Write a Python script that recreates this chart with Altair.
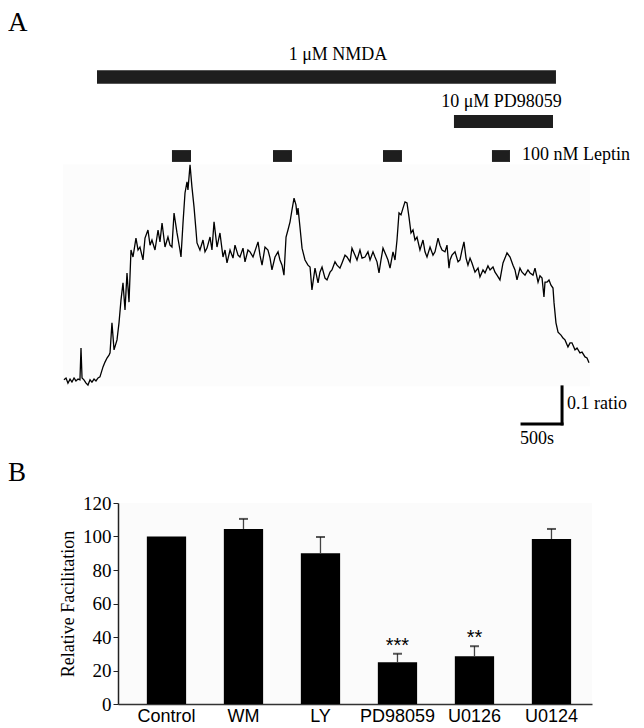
import altair as alt
import pandas as pd

# ---------------- Panel A: calcium-ratio trace (time in s, ratio) ----------------
trace_t = [12, 38, 62, 88, 112, 138, 162, 188, 212, 225, 238, 262, 288, 312, 338, 362, 388, 412, 438, 462,
           500, 525, 550, 575, 588, 612, 638, 675, 700, 725, 750, 775, 800, 825, 850, 875, 912, 938, 962, 1000,
           1025, 1062, 1088, 1112, 1150, 1188, 1212, 1238, 1275, 1312, 1338, 1362, 1388, 1425, 1462, 1475, 1500,
           1525, 1550, 1562, 1588, 1612, 1638, 1662, 1675, 1712, 1750, 1775, 1800, 1838, 1862, 1888, 1925, 1962,
           2000, 2025, 2050, 2088, 2125, 2150, 2188, 2212, 2250, 2275, 2312, 2338, 2375, 2412, 2438, 2462, 2488,
           2525, 2562, 2588, 2612, 2650, 2688, 2712, 2738, 2762, 2788, 2812, 2838, 2862, 2888, 2912, 2925, 2938,
           2962, 2988, 3025, 3062, 3088, 3112, 3150, 3188, 3212, 3238, 3275, 3300, 3338, 3362, 3400, 3425, 3462,
           3488, 3525, 3550, 3588, 3612, 3650, 3675, 3712, 3738, 3775, 3812, 3838, 3875, 3900, 3925, 3950, 3975,
           4000, 4038, 4062, 4088, 4125, 4150, 4175, 4200, 4225, 4250, 4275, 4300, 4325, 4350, 4375, 4400, 4425,
           4462, 4500, 4525, 4550, 4588, 4625, 4650, 4688, 4712, 4738, 4775, 4800, 4825, 4838, 4862, 4900, 4938,
           4962, 4988, 5012, 5038, 5062, 5088, 5112, 5150, 5188, 5212, 5250, 5275, 5312, 5338, 5375, 5400, 5425,
           5462, 5500, 5525, 5550, 5588, 5625, 5650, 5675, 5712, 5738, 5775, 5812, 5838, 5875, 5900, 5938, 5962,
           5988, 6012, 6025, 6050, 6075, 6100, 6125, 6138, 6162, 6188, 6225, 6250, 6275, 6312, 6338, 6362, 6400,
           6425, 6462, 6488, 6525, 6550, 6575]
trace_r = [0.995, 1.000, 0.986, 0.997, 0.989, 1.000, 0.992, 0.997, 0.995, 1.081, 1.000, 0.995, 0.986, 0.981,
           0.995, 0.989, 0.997, 0.992, 1.000, 1.003, 1.030, 1.043, 1.054, 1.062, 1.068, 1.149, 1.076, 1.103,
           1.149, 1.211, 1.257, 1.184, 1.284, 1.205, 1.346, 1.327, 1.378, 1.346, 1.354, 1.319, 1.378, 1.400,
           1.359, 1.373, 1.346, 1.400, 1.368, 1.419, 1.354, 1.381, 1.359, 1.354, 1.446, 1.392, 1.346, 1.327,
           1.419, 1.500, 1.530, 1.508, 1.576, 1.516, 1.462, 1.400, 1.365, 1.346, 1.373, 1.341, 1.351, 1.381,
           1.346, 1.422, 1.354, 1.392, 1.327, 1.346, 1.311, 1.346, 1.324, 1.359, 1.332, 1.327, 1.351, 1.314,
           1.346, 1.341, 1.327, 1.351, 1.368, 1.332, 1.305, 1.354, 1.346, 1.324, 1.292, 1.327, 1.341, 1.319,
           1.305, 1.278, 1.381, 1.400, 1.422, 1.454, 1.486, 1.468, 1.441, 1.459, 1.408, 1.351, 1.319, 1.305,
           1.300, 1.238, 1.297, 1.257, 1.286, 1.300, 1.270, 1.265, 1.286, 1.292, 1.314, 1.305, 1.297, 1.311,
           1.332, 1.327, 1.314, 1.351, 1.332, 1.319, 1.346, 1.324, 1.327, 1.341, 1.319, 1.341, 1.327, 1.314,
           1.284, 1.319, 1.351, 1.332, 1.319, 1.297, 1.341, 1.319, 1.373, 1.446, 1.441, 1.459, 1.476, 1.473,
           1.435, 1.392, 1.400, 1.373, 1.381, 1.346, 1.373, 1.341, 1.327, 1.354, 1.332, 1.341, 1.378, 1.359,
           1.346, 1.341, 1.359, 1.297, 1.319, 1.332, 1.341, 1.314, 1.319, 1.346, 1.368, 1.324, 1.305, 1.324,
           1.311, 1.286, 1.297, 1.273, 1.292, 1.284, 1.303, 1.292, 1.300, 1.286, 1.278, 1.265, 1.311, 1.324,
           1.338, 1.327, 1.305, 1.292, 1.265, 1.297, 1.286, 1.278, 1.292, 1.284, 1.278, 1.297, 1.259, 1.276,
           1.270, 1.219, 1.259, 1.259, 1.265, 1.251, 1.243, 1.203, 1.149, 1.124, 1.116, 1.108, 1.103, 1.084,
           1.095, 1.095, 1.076, 1.081, 1.068, 1.070, 1.057, 1.054, 1.041]

# drug application bars (time span, vertical band in ratio units)
bar_name = ["NMDA", "PD98059", "Leptin 1", "Leptin 2", "Leptin 3", "Leptin 4"]
bar_t0 = [425, 4887, 1362, 2625, 4000, 5362]
bar_t1 = [6162, 6125, 1600, 2862, 4237, 5587]
bar_r0 = [1.795, 1.676, 1.584, 1.584, 1.584, 1.584]
bar_r1 = [1.832, 1.711, 1.616, 1.616, 1.616, 1.616]

ctr_text = ["1 \u03bcM NMDA", "10 \u03bcM PD98059", "500s"]
ctr_t = [3437, 5481, 5925]
ctr_r = [1.873, 1.746, 0.835]

left_text = ["100 nM Leptin", "0.1 ratio"]
left_t = [5737, 6300]
left_r = [1.603, 0.930]

# scale bar: 500 s horizontal, 0.1 ratio vertical
scale_t0 = [6238, 5738]
scale_t1 = [6238, 6238]
scale_r0 = [0.876, 0.876]
scale_r1 = [0.976, 0.876]

bg_t0, bg_t1, bg_r0, bg_r1 = [0], [6588], [0.978], [1.578]

# ---------------- Panel B: bar chart ----------------
categories = ["Control", "WM", "LY", "PD98059", "U0126", "U0124"]
means = [100, 104.5, 90, 25, 28.5, 98.5]
sems = [0, 6, 9.7, 5, 6, 6]
stars = ["", "", "", "***", "**", ""]
y_ticks = [0, 20, 40, 60, 80, 100, 120]

SERIF = "Liberation Serif"
SANS = "Liberation Sans"

xs = alt.Scale(domain=[687.5, 6612.5], nice=False, zero=False)
ys = alt.Scale(domain=[0.8, 2.0], nice=False, zero=False)

trace_df = pd.DataFrame({"t": trace_t, "r": trace_r})
bars_df = pd.DataFrame({"name": bar_name, "t0": bar_t0, "t1": bar_t1, "r0": bar_r0, "r1": bar_r1})
ctr_df = pd.DataFrame({"label": ctr_text, "t": ctr_t, "r": ctr_r})
left_df = pd.DataFrame({"label": left_text, "t": left_t, "r": left_r})
scale_df = pd.DataFrame({"t0": scale_t0, "t1": scale_t1, "r0": scale_r0, "r1": scale_r1})
bg_df = pd.DataFrame({"t0": bg_t0, "t1": bg_t1, "r0": bg_r0, "r1": bg_r1})

bg = alt.Chart(bg_df).mark_rect(color="#fcfcfc").encode(
    x=alt.X("t0:Q", scale=xs, axis=None), x2="t1:Q",
    y=alt.Y("r0:Q", scale=ys, axis=None), y2="r1:Q")

trace = alt.Chart(trace_df).mark_line(color="black", strokeWidth=1.3).encode(
    x=alt.X("t:Q", scale=xs, axis=None), y=alt.Y("r:Q", scale=ys, axis=None))

bars = alt.Chart(bars_df).mark_rect(color="#1e1e1e").encode(
    x=alt.X("t0:Q", scale=xs, axis=None), x2="t1:Q",
    y=alt.Y("r0:Q", scale=ys, axis=None), y2="r1:Q")

ctr = alt.Chart(ctr_df).mark_text(font=SERIF, fontSize=18, align="center", baseline="middle", color="black").encode(
    x=alt.X("t:Q", scale=xs, axis=None), y=alt.Y("r:Q", scale=ys, axis=None), text="label:N")

left = alt.Chart(left_df).mark_text(font=SERIF, fontSize=18, align="left", baseline="middle", color="black").encode(
    x=alt.X("t:Q", scale=xs, axis=None), y=alt.Y("r:Q", scale=ys, axis=None), text="label:N")

sbar = alt.Chart(scale_df).mark_rule(color="black", strokeWidth=3, strokeCap="square").encode(
    x=alt.X("t0:Q", scale=xs, axis=None), x2="t1:Q",
    y=alt.Y("r0:Q", scale=ys, axis=None), y2="r1:Q")

lab_a = alt.Chart(pd.DataFrame({"label": ["A"]})).mark_text(
    font=SERIF, fontSize=27, align="left", baseline="middle", color="black").encode(
    x=alt.value(-110), y=alt.value(15), text="label:N")

panel_a = alt.layer(bg, trace, bars, ctr, left, sbar, lab_a).properties(width=474, height=444)

bdf = pd.DataFrame({"cat": categories, "mean": means, "sem": sems, "stars": stars})
bdf["top"] = bdf["mean"] + bdf["sem"]
edf = bdf[bdf["sem"] > 0]

xb = alt.Scale(domain=categories, paddingInner=0.49, paddingOuter=0.323, align=0.58)
yb = alt.Scale(domain=[0, 120], nice=False)

xaxis = alt.Axis(title=None, labelAngle=0, ticks=False, labelFont=SANS, labelFontSize=18,
                 labelColor="black", labelPadding=3, domainColor="#333", domainWidth=1.5)
yaxis = alt.Axis(title="Relative Facilitation", values=y_ticks, grid=False,
                 labelOverlap=False, labelFont=SERIF, labelFontSize=19, labelColor="black", labelPadding=2,
                 tickSize=5, tickColor="#222", domainColor="#222", domainWidth=1.5,
                 titleFont=SERIF, titleFontSize=18, titleFontWeight="normal", titleColor="black",
                 titlePadding=5)

bar_b = alt.Chart(bdf).mark_bar(color="black").encode(
    x=alt.X("cat:N", scale=xb, axis=xaxis, sort=categories),
    y=alt.Y("mean:Q", scale=yb, axis=yaxis))

err = alt.Chart(edf).mark_rule(color="#444", strokeWidth=1.3).encode(
    x=alt.X("cat:N", scale=xb, sort=categories, axis=xaxis),
    y=alt.Y("mean:Q", scale=yb, axis=yaxis), y2="top:Q")

cap = alt.Chart(edf).mark_tick(color="#111", size=9, thickness=2).encode(
    x=alt.X("cat:N", scale=xb, sort=categories, axis=xaxis),
    y=alt.Y("top:Q", scale=yb, axis=yaxis))

star = alt.Chart(edf).mark_text(font=SANS, fontSize=20, baseline="alphabetic", dy=-2, color="black").encode(
    x=alt.X("cat:N", scale=xb, sort=categories, axis=xaxis),
    y=alt.Y("top:Q", scale=yb, axis=yaxis), text="stars:N")

lab_b = alt.Chart(pd.DataFrame({"label": ["B"]})).mark_text(
    font=SERIF, fontSize=27, align="left", baseline="middle", color="black").encode(
    x=alt.value(-110), y=alt.value(-30), text="label:N")

panel_b = alt.layer(bar_b, err, cap, star, lab_b).properties(
    width=474, height=201, view=alt.ViewBackground(fill="#fbfbfb", stroke=None))

chart = alt.vconcat(panel_a, panel_b, spacing=51, bounds="flush").properties(padding=0).configure_view(stroke=None)

chart.save("out.html", embed_options={"renderer": "svg", "actions": False})
